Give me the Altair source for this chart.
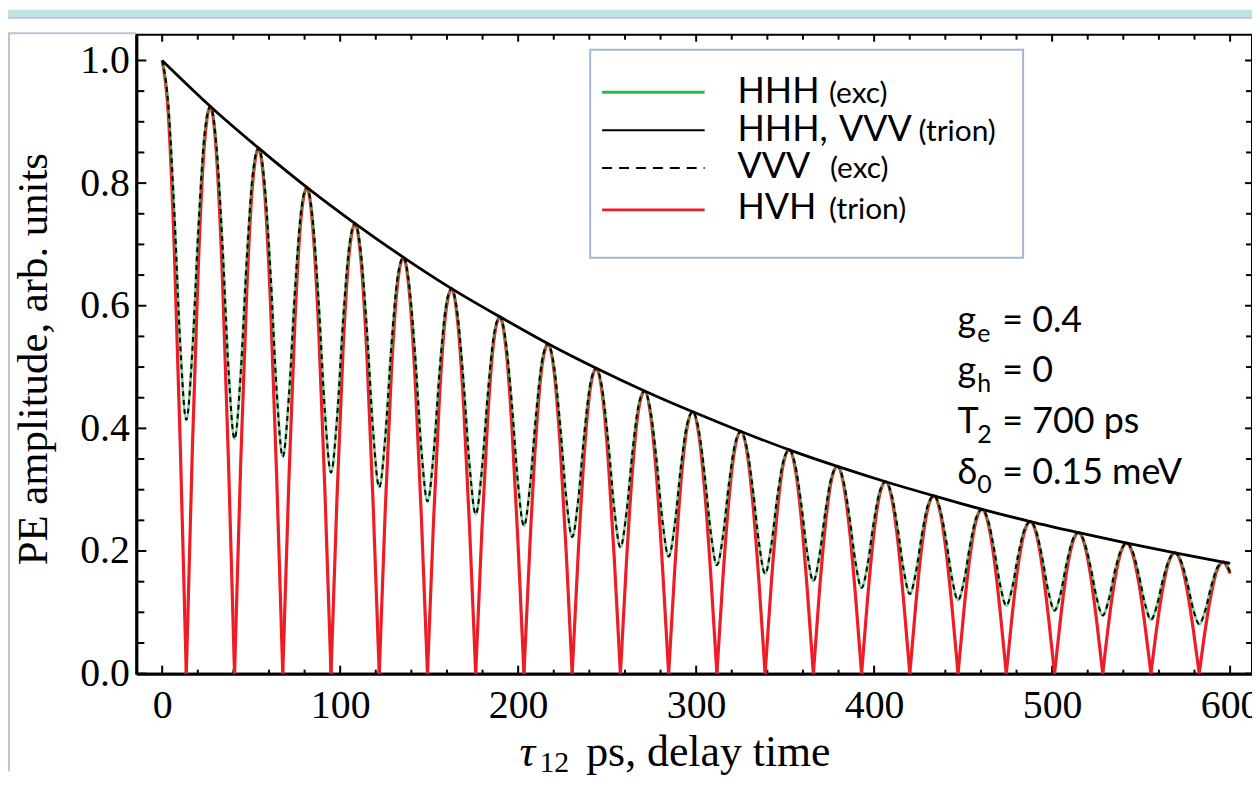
import altair as alt
import pandas as pd

# ---------------- data ----------------
# delay times (ps) at which the curves were read
T = [
    0, 3.39, 6.78, 10.16, 13.55, 16.94, 20.33, 23.71,
    27.1, 30.49, 33.88, 37.26, 40.65, 44.04, 47.43, 50.81,
    54.2, 57.59, 60.98, 64.36, 67.75, 71.14, 74.53, 77.91,
    81.3, 84.69, 88.08, 91.46, 94.85, 98.24, 101.63, 105.01,
    108.4, 111.79, 115.18, 118.56, 121.95, 125.34, 128.73, 132.11,
    135.5, 138.89, 142.28, 145.66, 149.05, 152.44, 155.83, 159.21,
    162.6, 165.99, 169.38, 172.76, 176.15, 179.54, 182.93, 186.31,
    189.7, 193.09, 196.48, 199.86, 203.25, 206.64, 210.03, 213.41,
    216.8, 220.19, 223.58, 226.96, 230.35, 233.74, 237.13, 240.51,
    243.9, 247.29, 250.68, 254.06, 257.45, 260.84, 264.23, 267.61,
    271.0, 274.39, 277.78, 281.16, 284.55, 287.94, 291.33, 294.71,
    298.1, 301.49, 304.88, 308.26, 311.65, 315.04, 318.43, 321.81,
    325.2, 328.59, 331.98, 335.36, 338.75, 342.14, 345.53, 348.91,
    352.3, 355.69, 359.08, 362.46, 365.85, 369.24, 372.63, 376.01,
    379.4, 382.79, 386.18, 389.56, 392.95, 396.34, 399.73, 403.11,
    406.5, 409.89, 413.28, 416.66, 420.05, 423.44, 426.83, 430.21,
    433.6, 436.99, 440.38, 443.76, 447.15, 450.54, 453.93, 457.31,
    460.7, 464.09, 467.48, 470.86, 474.25, 477.64, 481.03, 484.41,
    487.8, 491.19, 494.58, 497.96, 501.35, 504.74, 508.13, 511.51,
    514.9, 518.29, 521.68, 525.06, 528.45, 531.84, 535.23, 538.61,
    542.0, 545.39, 548.78, 552.16, 555.55, 558.94, 562.33, 565.71,
    569.1, 572.49, 575.88, 579.26, 582.65, 586.04, 589.43, 592.81,
    596.2, 600.0,
]

# HVH (trion) - red
HVH_TRION = [
    1.000, 0.915, 0.694, 0.372, 0.000, 0.365, 0.667, 0.863,
    0.925, 0.847, 0.642, 0.344, 0.000, 0.337, 0.617, 0.799,
    0.857, 0.784, 0.594, 0.318, 0.000, 0.312, 0.571, 0.740,
    0.793, 0.725, 0.550, 0.295, 0.000, 0.289, 0.529, 0.684,
    0.734, 0.671, 0.509, 0.273, 0.000, 0.268, 0.489, 0.633,
    0.679, 0.621, 0.471, 0.252, 0.000, 0.248, 0.453, 0.586,
    0.628, 0.575, 0.436, 0.234, 0.000, 0.229, 0.419, 0.543,
    0.582, 0.532, 0.403, 0.216, 0.000, 0.212, 0.388, 0.502,
    0.538, 0.493, 0.373, 0.200, 0.000, 0.196, 0.359, 0.465,
    0.498, 0.456, 0.345, 0.185, 0.000, 0.182, 0.332, 0.430,
    0.461, 0.422, 0.320, 0.171, 0.000, 0.168, 0.308, 0.398,
    0.427, 0.390, 0.296, 0.159, 0.000, 0.156, 0.285, 0.368,
    0.395, 0.361, 0.274, 0.147, 0.000, 0.144, 0.263, 0.341,
    0.365, 0.334, 0.253, 0.136, 0.000, 0.133, 0.244, 0.316,
    0.338, 0.309, 0.235, 0.126, 0.000, 0.123, 0.226, 0.292,
    0.313, 0.286, 0.217, 0.116, 0.000, 0.114, 0.209, 0.270,
    0.290, 0.265, 0.201, 0.108, 0.000, 0.106, 0.193, 0.250,
    0.268, 0.245, 0.186, 0.100, 0.000, 0.098, 0.179, 0.231,
    0.248, 0.227, 0.172, 0.092, 0.000, 0.090, 0.166, 0.214,
    0.230, 0.210, 0.159, 0.085, 0.000, 0.084, 0.153, 0.198,
    0.213, 0.194, 0.147, 0.079, 0.000, 0.078, 0.142, 0.184,
    0.197, 0.180, 0.136, 0.073, 0.000, 0.072, 0.131, 0.170,
    0.182, 0.163,
]

# HHH (exc) - green, VVV (exc) - dashed black (same curve)
HHH_EXC = [
    1.000, 0.929, 0.755, 0.536, 0.414, 0.526, 0.726, 0.877,
    0.925, 0.860, 0.699, 0.496, 0.383, 0.486, 0.672, 0.812,
    0.857, 0.796, 0.647, 0.459, 0.354, 0.450, 0.622, 0.751,
    0.793, 0.737, 0.598, 0.425, 0.328, 0.417, 0.576, 0.695,
    0.734, 0.682, 0.554, 0.393, 0.304, 0.386, 0.533, 0.643,
    0.679, 0.631, 0.513, 0.364, 0.281, 0.357, 0.493, 0.595,
    0.628, 0.584, 0.474, 0.337, 0.260, 0.330, 0.456, 0.551,
    0.582, 0.541, 0.439, 0.312, 0.241, 0.306, 0.422, 0.510,
    0.538, 0.500, 0.406, 0.288, 0.223, 0.283, 0.391, 0.472,
    0.498, 0.463, 0.376, 0.267, 0.206, 0.262, 0.362, 0.437,
    0.461, 0.428, 0.348, 0.247, 0.191, 0.242, 0.335, 0.404,
    0.427, 0.397, 0.322, 0.229, 0.177, 0.224, 0.310, 0.374,
    0.395, 0.367, 0.298, 0.212, 0.163, 0.208, 0.287, 0.346,
    0.365, 0.340, 0.276, 0.196, 0.151, 0.192, 0.265, 0.320,
    0.338, 0.314, 0.255, 0.181, 0.140, 0.178, 0.246, 0.297,
    0.313, 0.291, 0.236, 0.168, 0.130, 0.165, 0.227, 0.275,
    0.290, 0.269, 0.219, 0.155, 0.120, 0.152, 0.210, 0.254,
    0.268, 0.249, 0.202, 0.144, 0.111, 0.141, 0.195, 0.235,
    0.248, 0.231, 0.187, 0.133, 0.103, 0.130, 0.180, 0.218,
    0.230, 0.213, 0.173, 0.123, 0.095, 0.121, 0.167, 0.201,
    0.213, 0.198, 0.160, 0.114, 0.088, 0.112, 0.154, 0.186,
    0.197, 0.183, 0.149, 0.105, 0.081, 0.103, 0.143, 0.173,
    0.182, 0.166,
]

# HHH, VVV (trion) - black envelope
ENV_T = [0, 27.1, 54.2, 81.3, 108.4, 135.5, 162.6, 189.7, 216.8, 243.9, 271.0,
         298.1, 325.2, 352.3, 379.4, 406.5, 433.6, 460.7, 487.8, 514.9, 542.0,
         569.1, 596.2, 600.0]
ENV_A = [1.000, 0.925, 0.857, 0.793, 0.734, 0.679, 0.628, 0.582, 0.538, 0.498,
         0.461, 0.427, 0.395, 0.365, 0.338, 0.313, 0.290, 0.268, 0.248, 0.230,
         0.213, 0.197, 0.182, 0.180]

# axis ticks
X_MAJOR = [0, 100, 200, 300, 400, 500, 600]
X_MINOR = [20, 40, 60, 80, 120, 140, 160, 180, 220, 240, 260, 280, 320, 340, 360,
           380, 420, 440, 460, 480, 520, 540, 560, 580]
Y_MAJOR = [0.0, 0.2, 0.4, 0.6, 0.8, 1.0]
Y_MINOR = [0.05, 0.1, 0.15, 0.25, 0.3, 0.35, 0.45, 0.5, 0.55, 0.65, 0.7, 0.75,
           0.85, 0.9, 0.95]

# ---------------- tables ----------------
red_rows = []
for j, (t, a) in enumerate(zip(T, HVH_TRION)):
    arch = (j + 4) // 8
    red_rows.append({"t": t, "a": a, "arch": arch})
    if j % 8 == 4:
        red_rows.append({"t": t, "a": a, "arch": arch - 1})
red_df = pd.DataFrame(red_rows)
green_df = pd.DataFrame({"t": T, "a": HHH_EXC})
env_df = pd.DataFrame({"t": ENV_T, "a": ENV_A})
one = pd.DataFrame({"k": [0]})

W, H = 1121, 642
SERIF = "Liberation Serif"
SANS = "Lato"
GREEN = "#2db84d"
RED = "#ee1c24"

xs = alt.Scale(domain=[-14.5, 612.3], nice=False, zero=False)
ys = alt.Scale(domain=[0, 1.042], nice=False, zero=False)
xaxis = alt.Axis(values=X_MAJOR, title=None, labelFont=SERIF, labelFontSize=40,
                 labelColor="black", ticks=False, grid=False, domain=True,
                 domainColor="black", domainWidth=3, labelPadding=12,
                 labelFlush=False, labelOverlap=False)
yaxis = alt.Axis(values=Y_MAJOR, format=".1f", title=None, labelFont=SERIF,
                 labelFontSize=40, labelColor="black", ticks=False, grid=False,
                 domain=True, domainColor="black", domainWidth=3, labelPadding=7,
                 labelFlush=False, labelOverlap=False)
XE = alt.X("t:Q", scale=xs, axis=xaxis)
YE = alt.Y("a:Q", scale=ys, axis=yaxis)

layers = []

# slide decorations
layers.append(alt.Chart(one).mark_rect(color="#c0e2de").encode(
    x=alt.value(-129), x2=alt.value(W), y=alt.value(-25), y2=alt.value(-18)))
layers.append(alt.Chart(one).mark_rule(color="#b3c5e6", strokeWidth=2).encode(
    x=alt.value(-129), x2=alt.value(W), y=alt.value(-17)))
layers.append(alt.Chart(one).mark_rule(color="#b8c3d6", strokeWidth=2).encode(
    x=alt.value(-129), x2=alt.value(0), y=alt.value(-1.5)))
layers.append(alt.Chart(one).mark_rule(color="#b8c3d6", strokeWidth=2).encode(
    x=alt.value(-128), y=alt.value(-1.5), y2=alt.value(740)))

# frame ticks (inward)
xmaj = pd.DataFrame({"t": X_MAJOR})
xmin = pd.DataFrame({"t": X_MINOR})
ymaj = pd.DataFrame({"a": Y_MAJOR})
ymin = pd.DataFrame({"a": Y_MINOR})
tk = dict(color="black", strokeWidth=2)
layers.append(alt.Chart(xmaj).mark_rule(**tk).encode(x=XE, y=alt.value(H), y2=alt.value(H - 8)))
layers.append(alt.Chart(xmin).mark_rule(**tk).encode(x=XE, y=alt.value(H), y2=alt.value(H - 4)))
layers.append(alt.Chart(xmaj).mark_rule(**tk).encode(x=XE, y=alt.value(0), y2=alt.value(7)))
layers.append(alt.Chart(xmin).mark_rule(**tk).encode(x=XE, y=alt.value(0), y2=alt.value(5)))
layers.append(alt.Chart(ymaj).mark_rule(**tk).encode(y=YE, x=alt.value(0), x2=alt.value(10)))
layers.append(alt.Chart(ymin).mark_rule(**tk).encode(y=YE, x=alt.value(0), x2=alt.value(8)))
layers.append(alt.Chart(ymaj).mark_rule(**tk).encode(y=YE, x=alt.value(W), x2=alt.value(W - 7)))
layers.append(alt.Chart(ymin).mark_rule(**tk).encode(y=YE, x=alt.value(W), x2=alt.value(W - 6)))

# curves
layers.append(alt.Chart(red_df).mark_line(color=RED, strokeWidth=3.2, interpolate="monotone").encode(
    x=XE, y=YE, detail="arch:N"))
layers.append(alt.Chart(green_df).mark_line(color=GREEN, strokeWidth=2.8, opacity=0.6,
                                            interpolate="monotone").encode(x=XE, y=YE))
layers.append(alt.Chart(green_df).mark_line(color="black", strokeWidth=2, strokeDash=[5, 4],
                                            interpolate="monotone").encode(x=XE, y=YE))
layers.append(alt.Chart(env_df).mark_line(color="black", strokeWidth=2.8, interpolate="monotone").encode(
    x=XE, y=YE))

# legend box
layers.append(alt.Chart(one).mark_rect(fill="white", stroke="#a7b6cf", strokeWidth=2).encode(
    x=alt.value(456), x2=alt.value(891), y=alt.value(15), y2=alt.value(224)))
layers.append(alt.Chart(one).mark_rule(color=GREEN, strokeWidth=3).encode(
    x=alt.value(468), x2=alt.value(571), y=alt.value(57.7)))
layers.append(alt.Chart(one).mark_rule(color="black", strokeWidth=2).encode(
    x=alt.value(468), x2=alt.value(571), y=alt.value(96)))
layers.append(alt.Chart(one).mark_rule(color="black", strokeWidth=2, strokeDash=[10, 7]).encode(
    x=alt.value(468), x2=alt.value(571), y=alt.value(134)))
layers.append(alt.Chart(one).mark_rule(color=RED, strokeWidth=3).encode(
    x=alt.value(468), x2=alt.value(571), y=alt.value(176)))


def txt(s, x, y, size, font=SANS, align="left", baseline="alphabetic", angle=None, style=None):
    kw = dict(text=s, font=font, fontSize=size, align=align, baseline=baseline, color="black")
    if angle is not None:
        kw["angle"] = angle
    if style is not None:
        kw["fontStyle"] = style
    return alt.Chart(one).mark_text(**kw).encode(x=alt.value(x), y=alt.value(y))


layers += [
    txt("HHH", 604, 69, 36), txt("(exc)", 696, 69, 30),
    txt("HHH,", 604, 107, 36), txt("VVV", 706, 107, 36), txt("(trion)", 786, 107, 30),
    txt("VVV", 604, 144, 36), txt("(exc)", 697, 144, 30),
    txt("HVH", 604, 185, 36), txt("(trion)", 696, 185, 30),
]

# parameter annotation
layers += [
    txt("g", 825, 299, 36), txt("e", 845, 309, 25), txt("= 0.4", 870, 299, 36),
    txt("g", 825, 349, 36), txt("h", 845, 359, 25), txt("= 0", 870, 349, 36),
    txt("T", 825, 400, 36), txt("2", 845, 410, 25), txt("= 700 ps", 870, 400, 36),
    txt("δ", 825, 451, 36), txt("0", 845, 460, 25), txt("= 0.15 meV", 870, 451, 36),
]

# axis titles
layers += [
    txt("PE amplitude, arb. units", -90, 326, 43, font=SERIF, align="center", angle=270),
    txt("τ", 385, 735, 44, font=SERIF, style="italic"),
    txt("12", 405, 741, 30, font=SERIF),
    txt("ps, delay time", 452, 735, 44, font=SERIF),
]

chart = alt.layer(*layers).properties(
    width=W, height=H,
    padding={"left": 129, "top": 25, "right": 0, "bottom": 102},
    autosize=alt.AutoSizeParams(type="none"),
    background="white",
).configure_view(stroke="black", strokeWidth=2)

chart.save("out.html", embed_options={"renderer": "svg", "actions": False})
